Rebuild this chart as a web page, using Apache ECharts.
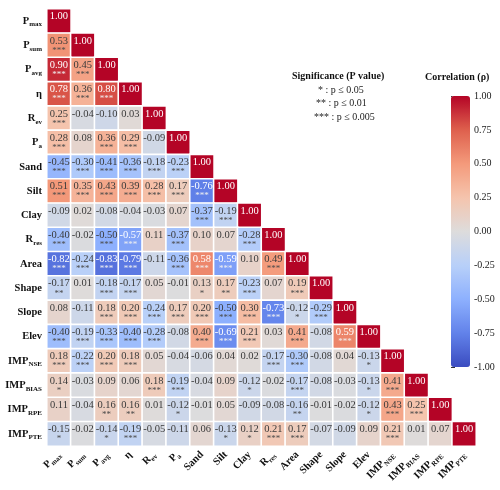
<!DOCTYPE html>
<html>
<head>
<meta charset="utf-8">
<script src="https://cdn.jsdelivr.net/npm/echarts@6/dist/echarts.min.js"></script>
<style>html,body{margin:0;padding:0;background:#fff}#c{width:500px;height:490px}</style>
</head>
<body>
<div id="c"></div>
<script>
// Variable labels ("main|subscript")
const labels = ['P|max','P|sum','P|avg','η','R|ev','P|a','Sand','Silt','Clay','R|res','Area','Shape','Slope','Elev','IMP|NSE','IMP|BIAS','IMP|RPE','IMP|PTE'];

// Lower-triangle correlation rows
const rPmax  = [1.00];
const rPsum  = [0.53,1.00];
const rPavg  = [0.90,0.45,1.00];
const rEta   = [0.78,0.36,0.80,1.00];
const rRev   = [0.25,-0.04,-0.10,0.03,1.00];
const rPa    = [0.28,0.08,0.36,0.29,-0.09,1.00];
const rSand  = [-0.45,-0.30,-0.41,-0.36,-0.18,-0.23,1.00];
const rSilt  = [0.51,0.35,0.43,0.39,0.28,0.17,-0.76,1.00];
const rClay  = [-0.09,0.02,-0.08,-0.04,-0.03,0.07,-0.37,-0.19,1.00];
const rRres  = [-0.40,-0.02,-0.50,-0.57,0.11,-0.37,0.10,0.07,-0.28,1.00];
const rArea  = [-0.82,-0.24,-0.83,-0.79,-0.11,-0.36,0.58,-0.59,0.10,0.49,1.00];
const rShape = [-0.17,0.01,-0.18,-0.17,0.05,-0.01,0.13,0.17,-0.23,0.07,0.19,1.00];
const rSlope = [0.08,-0.11,0.18,0.20,-0.24,0.17,0.20,-0.50,0.30,-0.73,-0.12,-0.29,1.00];
const rElev  = [-0.40,-0.19,-0.33,-0.40,-0.28,-0.08,0.40,-0.69,0.21,0.03,0.41,-0.08,0.59,1.00];
const rNSE   = [0.18,-0.22,0.20,0.18,0.05,-0.04,-0.06,0.04,0.02,-0.17,-0.30,-0.08,0.04,-0.13,1.00];
const rBIAS  = [0.14,-0.03,0.09,0.06,0.18,-0.19,-0.04,0.09,-0.12,-0.02,-0.17,-0.08,-0.03,-0.13,0.41,1.00];
const rRPE   = [0.11,-0.04,0.16,0.16,0.01,-0.12,-0.01,0.05,-0.09,-0.08,-0.16,-0.01,-0.02,-0.12,0.43,0.25,1.00];
const rPTE   = [-0.15,-0.02,-0.14,-0.19,-0.05,-0.11,0.06,-0.13,0.12,0.21,0.17,-0.07,-0.09,0.09,0.21,0.01,0.07,1.00];

// Significance stars count per cell
const sPmax  = [0];
const sPsum  = [3,0];
const sPavg  = [3,3,0];
const sEta   = [3,3,3,0];
const sRev   = [3,0,0,0,0];
const sPa    = [3,0,3,3,0,0];
const sSand  = [3,3,3,3,3,3,0];
const sSilt  = [3,3,3,3,3,3,3,0];
const sClay  = [0,0,0,0,0,0,3,3,0];
const sRres  = [3,0,3,3,0,3,0,0,3,0];
const sArea  = [3,3,3,3,0,3,3,3,0,3,0];
const sShape = [2,0,3,3,0,0,1,2,3,0,3,0];
const sSlope = [0,0,3,3,3,3,3,3,3,3,1,3,0];
const sElev  = [3,3,3,3,3,0,3,3,3,0,3,0,3,0];
const sNSE   = [3,3,3,3,0,0,0,0,0,3,3,0,0,1,0];
const sBIAS  = [1,0,0,0,3,3,0,0,1,0,3,0,0,1,3,0];
const sRPE   = [0,0,2,2,0,1,0,0,0,0,2,0,0,1,3,3,0];
const sPTE   = [1,0,1,3,0,0,0,1,1,3,3,0,0,0,3,0,0,0];

// Colorbar ticks
const cbMin = -1, cbMax = 1, cbStep = 0.25;

const rows = [rPmax,rPsum,rPavg,rEta,rRev,rPa,rSand,rSilt,rClay,rRres,rArea,rShape,rSlope,rElev,rNSE,rBIAS,rRPE,rPTE];
const stars = [sPmax,sPsum,sPavg,sEta,sRev,sPa,sSand,sSilt,sClay,sRres,sArea,sShape,sSlope,sElev,sNSE,sBIAS,sRPE,sPTE];

const FF = '"Liberation Serif", "Times New Roman", serif';
const coolwarm = ['#3b4cc0','#6282ea','#8db0fe','#b8d0f9','#dddcdc','#f5c4ad','#f49a7b','#de604d','#b40426'];

const data = [];
rows.forEach((row, y) => {
  row.forEach((v, x) => {
    data.push({ value: [x, y, v], stars: stars[y][x] });
  });
});

function richLabel(s) {
  const p = s.split('|');
  return p.length > 1 ? '{m|' + p[0] + '}{s|' + p[1] + '}' : '{m|' + p[0] + '}';
}
const axisRich = {
  m: { fontFamily: FF, fontWeight: 'bold', fontSize: 10.5, color: '#111', lineHeight: 14 },
  s: { fontFamily: FF, fontWeight: 'bold', fontSize: 7, color: '#111', lineHeight: 7, verticalAlign: 'bottom' }
};

const chart = echarts.init(document.getElementById('c'), null, { renderer: 'canvas' });
chart.setOption({
  animation: false,
  backgroundColor: '#fff',
  grid: [
    { left: 47, top: 9, width: 429, height: 437 },
    { left: 451, top: 96, width: 19, height: 271 }
  ],
  xAxis: [
    {
      type: 'category', data: labels, gridIndex: 0,
      axisLine: { show: false }, axisTick: { show: false }, splitLine: { show: false },
      axisLabel: { interval: 0, rotate: 45, margin: 7, formatter: richLabel, rich: axisRich }
    },
    { type: 'value', gridIndex: 1, show: false, min: 0, max: 1 }
  ],
  yAxis: [
    {
      type: 'category', data: labels, inverse: true, gridIndex: 0,
      axisLine: { show: false }, axisTick: { show: false }, splitLine: { show: false },
      axisLabel: { interval: 0, margin: 5, formatter: richLabel, rich: axisRich }
    },
    {
      type: 'value', gridIndex: 1, min: cbMin, max: cbMax, interval: cbStep, position: 'right',
      axisLine: { show: false }, splitLine: { show: false },
      axisTick: { show: true, length: 4, lineStyle: { color: '#333', width: 1 } },
      axisLabel: { margin: 4, fontFamily: FF, fontSize: 10, color: '#222', formatter: v => v.toFixed(2) }
    }
  ],
  visualMap: {
    type: 'continuous', min: cbMin, max: cbMax, seriesIndex: 0, calculable: false, hoverLink: false,
    left: 451, top: 96, itemWidth: 19, itemHeight: 271, padding: 0, text: null, showLabel: false,
    inRange: { color: coolwarm }
  },
  series: [{
    type: 'heatmap', xAxisIndex: 0, yAxisIndex: 0, data: data,
    itemStyle: { borderColor: '#fff', borderWidth: 1.6 },
    emphasis: { disabled: true },
    label: {
      show: true, position: 'inside',
      formatter: p => {
        const v = p.value[2];
        const dark = Math.abs(v) >= 0.55;
        const st = '*'.repeat(p.data.stars);
        return (dark ? '{w|' : '{d|') + v.toFixed(2) + '}\n' + (dark ? '{ws|' : '{ds|') + (st || ' ') + '}';
      },
      rich: {
        d: { fontFamily: FF, fontSize: 10.5, color: '#3a3a3a', lineHeight: 10 },
        w: { fontFamily: FF, fontSize: 10.5, color: '#ffffff', lineHeight: 10 },
        ds: { fontFamily: FF, fontSize: 9, color: '#4a4a4a', lineHeight: 9 },
        ws: { fontFamily: FF, fontSize: 9, color: '#f0f0f0', lineHeight: 9 }
      }
    }
  }],
  graphic: [
    { type: 'text', left: 292, top: 71, style: { text: 'Significance (P value)', font: 'bold 10px ' + FF, fill: '#111' } },
    { type: 'text', left: 318, top: 85, style: { text: '* : p ≤ 0.05', font: '10px ' + FF, fill: '#222' } },
    { type: 'text', left: 316, top: 98, style: { text: '** : p ≤ 0.01', font: '10px ' + FF, fill: '#222' } },
    { type: 'text', left: 314, top: 112, style: { text: '*** : p ≤ 0.005', font: '10px ' + FF, fill: '#222' } },
    { type: 'text', left: 425, top: 72, style: { text: 'Correlation (ρ)', font: 'bold 10px ' + FF, fill: '#111' } }
  ]
});
</script>
</body>
</html>
